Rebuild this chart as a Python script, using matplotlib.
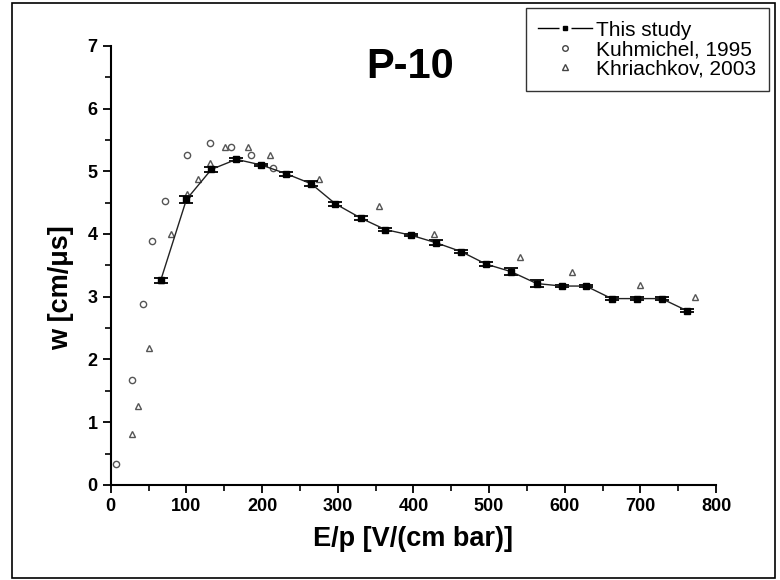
import matplotlib
matplotlib.use('Agg')
import matplotlib.pyplot as plt
from matplotlib.patches import Rectangle
from matplotlib.lines import Line2D
from matplotlib.ticker import MultipleLocator
import numpy as np

plt.rcParams['font.family'] = ['Liberation Sans', 'DejaVu Sans']

# This study (drift velocity with error bars)
study_ep = [66, 100, 133, 166, 199, 232, 265, 297, 331, 363, 397, 430, 463, 496,
            529, 563, 596, 628, 662, 695, 728, 761]
study_w = [3.26, 4.55, 5.03, 5.19, 5.10, 4.96, 4.80, 4.48, 4.25, 4.07, 3.98, 3.86,
           3.72, 3.52, 3.40, 3.21, 3.17, 3.17, 2.97, 2.97, 2.97, 2.78]
study_err = [0.04, 0.05, 0.04, 0.02, 0.02, 0.03, 0.04, 0.03, 0.03, 0.03, 0.02, 0.04,
             0.02, 0.03, 0.05, 0.05, 0.02, 0.02, 0.03, 0.02, 0.02, 0.03]

# Kuhmichel, 1995
kuhm_ep = [7, 28, 42, 55, 72, 101, 131, 159, 186, 215]
kuhm_w = [0.33, 1.67, 2.89, 3.89, 4.52, 5.26, 5.45, 5.39, 5.26, 5.05]

# Khriachkov, 2003
khri_ep = [28, 36, 51, 66, 80, 101, 115, 131, 151, 181, 210, 275, 354, 427, 541, 609, 699, 772]
khri_w = [0.81, 1.26, 2.19, 3.27, 4.00, 4.63, 4.88, 5.13, 5.39, 5.39, 5.26, 4.88, 4.45,
          4.00, 3.63, 3.39, 3.19, 3.00]

fig = plt.figure(figsize=(7.8, 5.8), dpi=100)
ax = fig.add_axes([0.142, 0.164, 0.776, 0.757])

ax.errorbar(study_ep, study_w, yerr=study_err, color='#222222', lw=1.0, marker='s',
            ms=4.5, mfc='black', mec='black', ecolor='black', elinewidth=1.0,
            capsize=5, capthick=1.3, zorder=3)
ax.plot(kuhm_ep, kuhm_w, ls='none', marker='o', ms=4.5, mfc='white', mec='#555555',
        mew=1.0, zorder=2)
ax.plot(khri_ep, khri_w, ls='none', marker='^', ms=5, mfc='white', mec='#555555',
        mew=1.0, zorder=2)

ax.set_xlim(0, 800)
ax.set_ylim(0, 7)
ax.xaxis.set_major_locator(MultipleLocator(100))
ax.xaxis.set_minor_locator(MultipleLocator(50))
ax.yaxis.set_major_locator(MultipleLocator(1))
ax.yaxis.set_minor_locator(MultipleLocator(0.5))
ax.spines['top'].set_visible(False)
ax.spines['right'].set_visible(False)
ax.spines['left'].set_linewidth(1.5)
ax.spines['bottom'].set_linewidth(1.5)
ax.tick_params(which='major', direction='out', length=6, width=1.3, labelsize=13)
ax.tick_params(which='minor', direction='out', length=4, width=1.2)
for lab in ax.get_xticklabels() + ax.get_yticklabels():
    lab.set_fontweight('bold')

ax.set_xlabel('E/p [V/(cm bar)]', fontsize=19.5, fontweight='bold', labelpad=8)
ax.set_ylabel('w [cm/\u03bcs]', fontsize=19.5, fontweight='bold')
ax.yaxis.set_label_coords(-0.06, 0.449)
ax.text(396, 6.67, 'P-10', fontsize=30, fontweight='bold', ha='center', va='center')

# legend: line with a small square broken out of it
study_line = Line2D([], [], color='black', lw=1.0, marker='s', ms=8, mfc='white',
                    mec='none')
study_mark = Line2D([], [], ls='none', marker='s', ms=3.5, mfc='black', mec='black')
handles = [
    (study_line, study_mark),
    Line2D([], [], ls='none', marker='o', ms=4, mfc='white', mec='#444444', mew=1.0),
    Line2D([], [], ls='none', marker='^', ms=4, mfc='white', mec='#444444', mew=1.0),
]
labels = ['This study', 'Kuhmichel, 1995', 'Khriachkov, 2003']
leg = fig.legend(handles, labels, loc='upper right', bbox_to_anchor=(0.986, 0.986),
                 borderaxespad=0, fontsize=15, frameon=True, fancybox=False,
                 edgecolor='black', borderpad=0.6, handlelength=2.6,
                 handletextpad=0.2, labelspacing=0.02, numpoints=1)
leg.get_frame().set_linewidth(1.0)

fig.patches.append(Rectangle((0.016, 0.004), 0.978, 0.99, transform=fig.transFigure,
                             fill=False, edgecolor='black', lw=1.2))

fig.savefig('out.png', dpi=100)
